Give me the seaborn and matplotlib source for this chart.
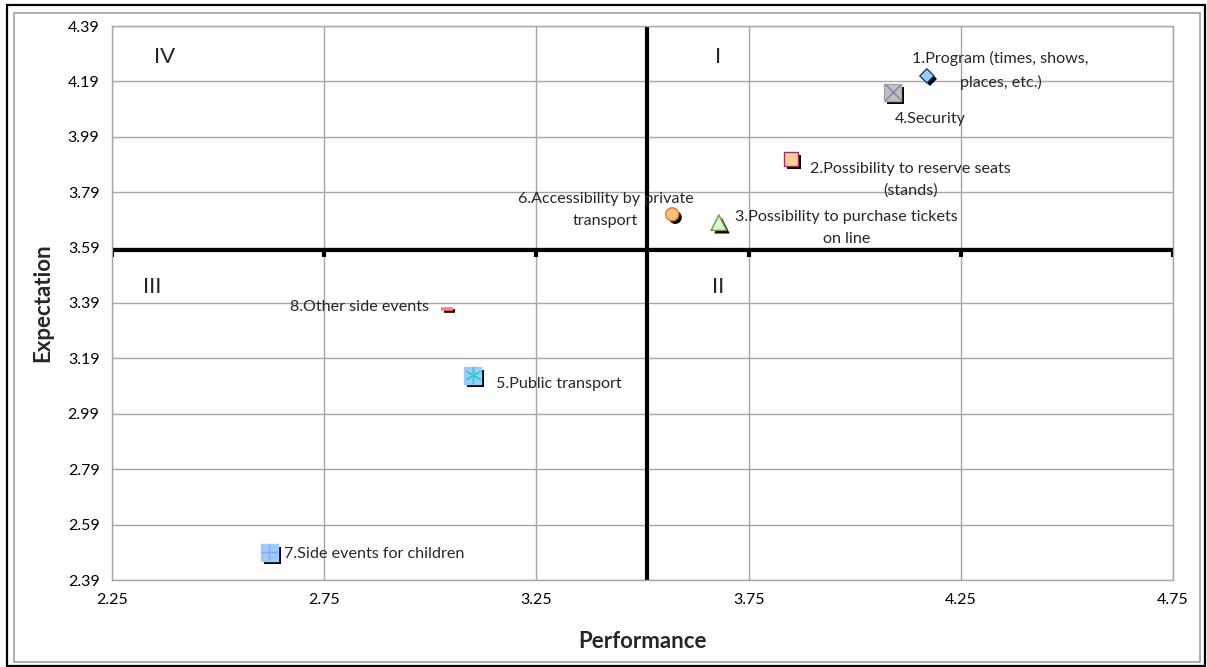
import matplotlib
matplotlib.use("Agg")
import matplotlib.pyplot as plt
import matplotlib.patheffects as pe
from matplotlib.patches import Rectangle
import seaborn as sns
import pandas as pd

# ---- data -------------------------------------------------------------
labels = [
    "1.Program (times, shows,\nplaces, etc.)",
    "2.Possibility to reserve seats\n(stands)",
    "3.Possibility to purchase tickets\non line",
    "4.Security",
    "5.Public transport",
    "6.Accessibility by private\ntransport",
    "7.Side events for children",
    "8.Other side events",
]
performance = [4.17, 3.85, 3.68, 4.09, 3.10, 3.57, 2.62, 3.04]
expectation = [4.21, 3.91, 3.68, 4.15, 3.13, 3.71, 2.49, 3.37]

perf_split = 3.51
exp_split = 3.58

x_ticks = [2.25, 2.75, 3.25, 3.75, 4.25, 4.75]
y_ticks = [2.39, 2.59, 2.79, 2.99, 3.19, 3.39, 3.59, 3.79, 3.99, 4.19, 4.39]
quadrants = ["I", "II", "III", "IV"]

df = pd.DataFrame({"label": labels, "Performance": performance,
                   "Expectation": expectation})

# ---- styling of each item -----------------------------------------------
# marker, size, face, edge, inner glyph, glyph colour, label offset (pt)
styles = [
    dict(marker="D", s=52, fc="#99CCFF", ec="#1F3F7F", glyph=None, gc=None, off=(53, 4)),
    dict(marker="s", s=100, fc="#FFCC99", ec="#993366", glyph=None, gc=None, off=(86, -15)),
    dict(marker="^", s=125, fc="#CCFFCC", ec="#77933C", glyph=None, gc=None, off=(92, -4)),
    dict(marker="s", s=150, fc="#BFBFBF", ec="#A6A6A6", glyph="x", gc="#8080B0", off=(27, -19)),
    dict(marker="s", s=150, fc="#99CCFF", ec="#99CCFF", glyph=(6, 2, 0), gc="#33CCCC", off=(62, -6.5)),
    dict(marker="o", s=88, fc="#FFBF7F", ec="#E07B1F", glyph=None, gc=None, off=(-48, 3)),
    dict(marker="s", s=150, fc="#99CCFF", ec="#99CCFF", glyph="+", gc="#9999FF", off=(76, -1)),
    dict(marker="_", s=70, fc="#FF8080", ec="#FF8080", glyph=None, gc=None, off=(-63, 1)),
]

FONT = ["Lato", "DejaVu Sans"]

sns.set_theme(style="white")
plt.rcParams["font.family"] = FONT

fig = plt.figure(figsize=(12.07, 6.67), dpi=100)
ax = fig.add_axes([112 / 1207, 1 - 580 / 667, (1173 - 112) / 1207, (580 - 26) / 667])

ax.set_xlim(x_ticks[0], x_ticks[-1])
ax.set_ylim(y_ticks[0], y_ticks[-1])
ax.set_xticks(x_ticks)
ax.set_xticklabels([f"{v:.2f}" for v in x_ticks])
ax.set_yticks(y_ticks)
ax.set_yticklabels([f"{v:.2f}" for v in y_ticks])
ax.grid(True, color="#A6A6A6", linewidth=1.0)
ax.set_axisbelow(True)
for sp in ax.spines.values():
    sp.set_color("#A6A6A6")
    sp.set_linewidth(1.0)
ax.tick_params(axis="both", length=0, labelsize=11.5, colors="black")
ax.tick_params(axis="x", pad=9)
ax.tick_params(axis="y", pad=9)

# quadrant dividers
ax.axhline(exp_split, color="black", linewidth=3, zorder=2, solid_capstyle="butt")
ax.axvline(perf_split, color="black", linewidth=3, zorder=2, solid_capstyle="butt")
tick_len = (y_ticks[-1] - y_ticks[0]) * 0.012
ax.vlines(x_ticks[1:], exp_split - tick_len, exp_split, color="black",
          linewidth=3, zorder=2)
ax.vlines([x_ticks[0]], exp_split - tick_len, exp_split + tick_len * 0.4,
          color="black", linewidth=3, zorder=2)

# items with drop shadows
shadow = [pe.SimplePatchShadow(offset=(2.2, -2.2), shadow_rgbFace="black", alpha=1.0),
          pe.Normal()]
line_shadow = [pe.SimpleLineShadow(offset=(1.6, -1.6), shadow_color="black", alpha=1.0),
               pe.Normal()]

for i, st in enumerate(styles):
    row = df.iloc[[i]]
    if st["marker"] == "_":
        sns.scatterplot(data=row, x="Performance", y="Expectation", ax=ax,
                        marker="_", s=st["s"], color=st["fc"], linewidth=2.6,
                        zorder=4, legend=False, path_effects=line_shadow)
    else:
        sns.scatterplot(data=row, x="Performance", y="Expectation", ax=ax,
                        marker=st["marker"], s=st["s"], color=st["fc"],
                        edgecolor=st["ec"], linewidth=1.0, zorder=4,
                        legend=False, path_effects=shadow)
    if st["glyph"] is not None:
        sns.scatterplot(data=row, x="Performance", y="Expectation", ax=ax,
                        marker=st["glyph"], s=st["s"] * 0.9, color=st["gc"],
                        linewidth=1.0, zorder=5, legend=False)
    ax.annotate(row["label"].iloc[0],
                xy=(row["Performance"].iloc[0], row["Expectation"].iloc[0]),
                xytext=st["off"], textcoords="offset points",
                ha="center", va="center", multialignment="center",
                fontsize=11.6, linespacing=1.7, zorder=6)

# quadrant numerals
quad_pos = {"I": (0.571, 0.944), "II": (0.571, 0.529),
            "III": (0.038, 0.529), "IV": (0.050, 0.944)}
for q in quadrants:
    ax.text(*quad_pos[q], q, transform=ax.transAxes, ha="center", va="center",
            fontsize=16)

ax.set_xlabel("Performance", fontsize=16, fontweight="bold", labelpad=18)
ax.set_ylabel("Expectation", fontsize=16, fontweight="bold", labelpad=10)

# chart area and outer frame
fig.add_artist(Rectangle((14 / 1207, 1 - 662 / 667), (1200 - 14) / 1207,
                         (662 - 13) / 667, transform=fig.transFigure,
                         fill=False, edgecolor="#A0A0A0", linewidth=1.2))
fig.add_artist(Rectangle((7 / 1207, 1 - 666 / 667), (1205 - 7) / 1207,
                         (666 - 5) / 667, transform=fig.transFigure,
                         fill=False, edgecolor="black", linewidth=1.6))

fig.savefig("out.png", dpi=100)
